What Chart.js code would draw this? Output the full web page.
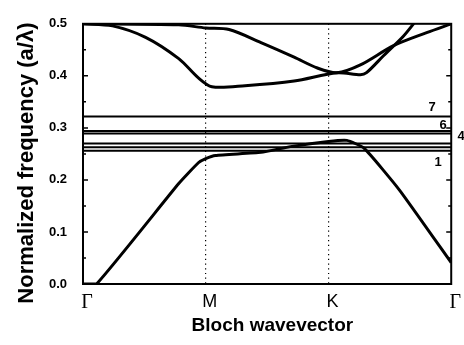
<!DOCTYPE html>
<html>
<head>
<meta charset="utf-8">
<script src="https://cdn.jsdelivr.net/npm/chart.js@4"></script>
<style>
  body { margin: 0; background: #fff; }
</style>
</head>
<body>
<canvas id="bandChart" width="464" height="345"></canvas>
<script>
// Wellenvektor-Positionen: Γ=0, M=1, K=2, Γ=3
const tickLabels = ['Γ', 'M', 'K', 'Γ'];

// untere Bandkurve
const lowerK    = [0, 0.11, 0.78, 0.94, 1.0, 1.08, 1.45, 1.69, 2.0, 2.15, 2.29, 2.58, 3.0];
const lowerFreq = [0, 0, 0.193, 0.233, 0.241, 0.247, 0.253, 0.264, 0.274, 0.276, 0.261, 0.18, 0.041];

// obere Kurve A (Minimum bei M)
const upperAK    = [0, 0.24, 0.51, 0.78, 0.94, 1.05, 1.32, 1.72, 2.07, 2.26, 2.31, 2.45, 2.61, 2.72];
const upperAFreq = [0.5, 0.496, 0.474, 0.433, 0.396, 0.379, 0.381, 0.39, 0.406, 0.402, 0.406, 0.439, 0.476, 0.508];

// obere Kurve B (bleibt bis M nahe 0.5)
const upperBK    = [0, 0.78, 1.0, 1.19, 1.45, 1.72, 1.91, 2.07, 2.26, 2.53, 2.8, 3.0];
const upperBFreq = [0.5, 0.498, 0.492, 0.489, 0.464, 0.436, 0.415, 0.406, 0.421, 0.458, 0.483, 0.5];

// flache Defektbänder
const flatBands = [0.256, 0.263, 0.27, 0.289, 0.294, 0.322];
const flatNames = ['1', '', '4', '', '6', '7'];

const yTicks = [0, 0.1, 0.2, 0.3, 0.4, 0.5];

function toPoints(xs, ys) {
    return xs.map((x, i) => ({x: x, y: ys[i]}));
}

const curveStyle = {borderColor: '#000', borderWidth: 3, pointRadius: 0, tension: 0.3, fill: false};

const datasets = [
    Object.assign({data: toPoints(lowerK, lowerFreq)}, curveStyle, {tension: 0.15}),
    Object.assign({data: toPoints(upperAK, upperAFreq)}, curveStyle),
    Object.assign({data: toPoints(upperBK, upperBFreq)}, curveStyle)
];
flatBands.forEach(v => {
    datasets.push({
        data: [{x: 0, y: v}, {x: 3, y: v}],
        borderColor: '#000', borderWidth: 2, pointRadius: 0, fill: false
    });
});

// Rahmen, Ticks nach innen und Bandnummern
const framePlugin = {
    id: 'frame',
    afterDatasetsDraw(chart) {
        const {ctx, chartArea: a, scales} = chart;
        ctx.save();
        ctx.strokeStyle = '#000';
        ctx.lineWidth = 2;
        ctx.strokeRect(a.left, a.top, a.right - a.left, a.bottom - a.top);

        ctx.lineWidth = 1.5;
        for (let v = 0.05; v < 0.5; v += 0.05) {
            const y = scales.y.getPixelForValue(v);
            const len = Math.abs(v * 10 - Math.round(v * 10)) < 0.01 ? 5 : 3;
            ctx.beginPath();
            ctx.moveTo(a.left, y); ctx.lineTo(a.left + len, y);
            ctx.moveTo(a.right, y); ctx.lineTo(a.right - len, y);
            ctx.stroke();
        }

        // Beschriftungen der flachen Bänder
        const offsets = {'1': [438, 12], '4': [461, -7], '6': [443, -6], '7': [432, -9]};
        ctx.fillStyle = '#000';
        ctx.font = 'bold 13px "Liberation Sans", Arial, sans-serif';
        ctx.textAlign = 'center';
        ctx.textBaseline = 'middle';
        flatBands.forEach((v, i) => {
            const name = flatNames[i];
            if (!name) return;
            const y = scales.y.getPixelForValue(v);
            ctx.fillText(name, offsets[name][0], y + offsets[name][1]);
        });
        ctx.restore();
    }
};

new Chart('bandChart', {
    type: 'line',
    data: {datasets: datasets},
    options: {
        responsive: false,
        animation: false,
        layout: {padding: {top: 14, right: 9, left: 0, bottom: 0}},
        plugins: {legend: {display: false}, tooltip: {enabled: false}},
        scales: {
            x: {
                type: 'linear',
                min: 0,
                max: 3,
                afterFit: s => { s.height = 61; },
                afterBuildTicks: s => { s.ticks = tickLabels.map((t, i) => ({value: i})); },
                grid: {
                    drawTicks: false,
                    color: c => (c.tick && (c.tick.value === 1 || c.tick.value === 2)) ? '#000' : 'rgba(0,0,0,0)',
                    lineWidth: 1.2
                },
                border: {display: false, dash: [1.2, 3.5]},
                ticks: {
                    color: '#000',
                    padding: 7,
                    labelOffset: 4,
                    maxRotation: 0,
                    autoSkip: false,
                    callback: v => tickLabels[v],
                    font: c => (c.tick && (c.tick.value === 0 || c.tick.value === 3))
                        ? {family: '"Liberation Serif", "Times New Roman", serif', size: 20}
                        : {family: '"Liberation Sans", Arial, sans-serif', size: 18}
                },
                title: {
                    display: true,
                    text: '  Bloch wavevector',
                    color: '#000',
                    font: {family: '"Liberation Sans", Arial, sans-serif', size: 19, weight: 'bold'},
                    padding: {top: 0, bottom: 8}
                }
            },
            y: {
                min: 0,
                max: 0.5,
                afterFit: s => { s.width = 83; },
                afterBuildTicks: s => { s.ticks = yTicks.map(v => ({value: v})); },
                grid: {display: false, drawTicks: false},
                border: {display: false},
                ticks: {
                    color: '#000',
                    padding: 16,
                    callback: v => v.toFixed(1),
                    font: {family: '"Liberation Sans", Arial, sans-serif', size: 13, weight: 'bold'}
                },
                title: {
                    display: true,
                    text: 'Normalized frequency (a/λ)   ',
                    color: '#000',
                    font: {family: '"Liberation Sans", Arial, sans-serif', size: 22, weight: 'bold'},
                    padding: {top: 14, bottom: 0}
                }
            }
        }
    },
    plugins: [framePlugin]
});
</script>
</body>
</html>
